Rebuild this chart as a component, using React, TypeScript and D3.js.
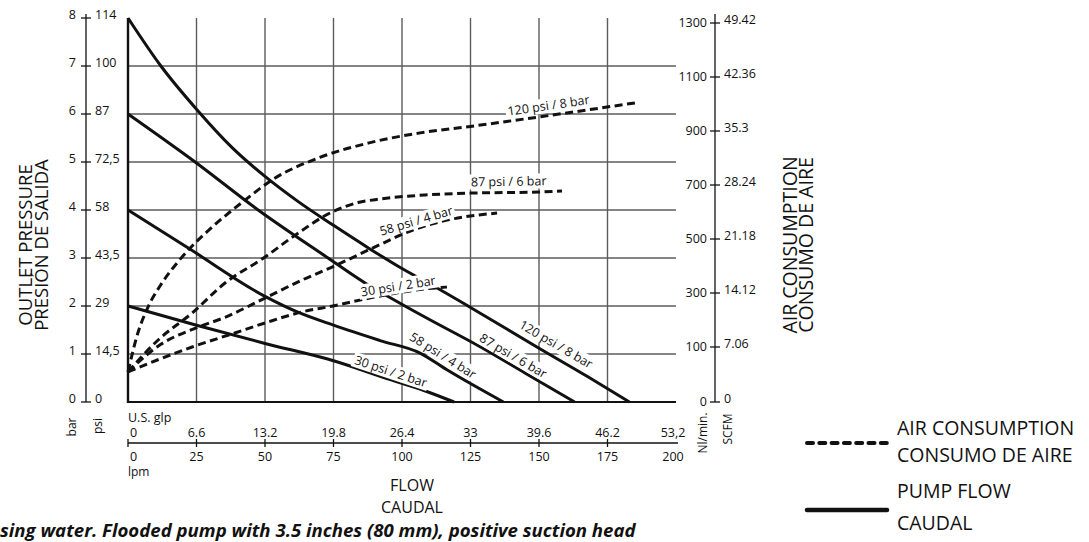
import { FunctionComponent, useEffect, useRef } from "react";
import * as d3 from "d3";

type Pt = [number, number];

interface Series {
    name: string;
    points: Pt[];
    labelAt: number;
    labelOffset: number;
}

// flow axis
const flowLpm = [0, 25, 50, 75, 100, 125, 150, 175, 200];
const flowGal = ["0", "6.6", "13.2", "19.8", "26.4", "33", "39.6", "46.2", "53,2"];

// outlet pressure axis
const pressureBar = [0, 1, 2, 3, 4, 5, 6, 7, 8];
const pressurePsi = ["0", "14,5", "29", "43,5", "58", "72,5", "87", "100", "114"];

// air consumption axis
const airNl = [0, 100, 300, 500, 700, 900, 1100, 1300];
const airScfm = ["0", "7.06", "14.12", "21.18", "28.24", "35.3", "42.36", "49.42"];

// pump flow curves: [lpm, bar]
const pump120: Pt[] = [[0, 8.0], [12, 7.0], [25, 6.1], [38, 5.3], [50, 4.7], [62, 4.18], [75, 3.68], [88, 3.2], [100, 2.78], [112, 2.4], [125, 1.97], [150, 1.12], [168, 0.52], [183, 0]];
const pump87: Pt[] = [[0, 6.0], [24.5, 5.0], [47.5, 4.0], [73, 3.0], [86.5, 2.48], [94, 2.23], [108, 1.78], [128.5, 1.15], [145, 0.6], [163, 0]];
const pump58: Pt[] = [[0, 4.0], [23, 3.17], [50, 2.2], [62, 1.87], [75, 1.6], [92, 1.28], [106.6, 1.02], [116.4, 0.67], [137, 0]];
const pump30: Pt[] = [[0, 2.0], [25, 1.6], [50, 1.22], [75, 0.86], [96, 0.46], [108, 0.24], [119, 0]];

// air consumption curves: [lpm, Nl/min]
const air120: Pt[] = [[0, 55], [3.6, 152], [7.3, 248], [12.4, 337], [18.2, 415], [23.4, 474], [30.7, 544], [35.4, 585], [42.7, 644], [52.6, 719], [70, 802], [88, 856], [106.6, 893], [125, 917], [150, 952], [185, 1004]];
const air87: Pt[] = [[0, 55], [11, 126], [23.4, 226], [35.4, 337], [50, 433], [60, 507], [74.5, 600], [84, 635], [92, 648], [108.4, 663], [125, 670], [150, 674], [158.4, 678]];
const air58: Pt[] = [[0, 55], [12, 110], [24.7, 170], [35.4, 210], [50, 281], [63.5, 348], [74.5, 396], [90, 470], [104, 533], [116.4, 570], [134.7, 596]];
const air30: Pt[] = [[0, 55], [23.4, 100], [39, 152], [50, 189], [63.5, 230], [74.8, 252], [90, 285], [108.4, 315], [116.4, 322]];

const pumpSeries: Series[] = [
    { name: "120 psi / 8 bar", points: pump120, labelAt: 154, labelOffset: 12 },
    { name: "87 psi / 6 bar", points: pump87, labelAt: 139, labelOffset: 9 },
    { name: "58 psi / 4 bar", points: pump58, labelAt: 113, labelOffset: 10 },
    { name: "30 psi / 2 bar", points: pump30, labelAt: 95, labelOffset: 8 },
];

const airSeries: Series[] = [
    { name: "120 psi / 8 bar", points: air120, labelAt: 154, labelOffset: 10 },
    { name: "87 psi / 6 bar", points: air87, labelAt: 139, labelOffset: 11 },
    { name: "58 psi / 4 bar", points: air58, labelAt: 106, labelOffset: 8 },
    { name: "30 psi / 2 bar", points: air30, labelAt: 99, labelOffset: 7 },
];

const FONT = "'Open Sans', 'DejaVu Sans', sans-serif";
const INK = "#111";
const GRID = "#5c5c5c";

const App: FunctionComponent = () => {
    const container = useRef<SVGSVGElement>(null);

    useEffect(draw, []);

    function draw() {
        if (!container.current) return;
        const svg = d3.select(container.current);
        svg.selectAll("*").remove();

        const x = d3.scaleLinear().domain([0, 200]).range([128, 676]);
        const yBar = d3.scaleLinear().domain([0, 8]).range([402, 18]);
        // the air axis is not linear: 0-100 takes the same room as each 200 above it
        const yAir = d3.scaleLinear().domain([0, 100, 1300]).range([402, 347, 23]);

        // grid
        const grid = svg.append("g");
        grid.selectAll("line.v")
            .data(flowLpm.slice(1, -1))
            .join("line")
            .attr("x1", d => x(d)).attr("x2", d => x(d))
            .attr("y1", yBar(8)).attr("y2", yBar(0))
            .attr("stroke", GRID).attr("stroke-width", 1.4);
        grid.selectAll("line.h")
            .data(pressureBar.slice(1, -1))
            .join("line")
            .attr("x1", x(0)).attr("x2", x(200))
            .attr("y1", d => yBar(d)).attr("y2", d => yBar(d))
            .attr("stroke", GRID).attr("stroke-width", 1.4);
        grid.append("line")
            .attr("x1", x(0)).attr("x2", x(0)).attr("y1", yBar(8)).attr("y2", yBar(0) + 1)
            .attr("stroke", INK).attr("stroke-width", 2.4);
        grid.append("line")
            .attr("x1", x(0)).attr("x2", x(200)).attr("y1", yBar(0)).attr("y2", yBar(0))
            .attr("stroke", INK).attr("stroke-width", 2);

        // left axis
        const left = svg.append("g").attr("font-family", FONT).attr("font-size", 12.5).attr("fill", INK);
        left.append("line").attr("x1", 86).attr("x2", 86).attr("y1", 14).attr("y2", yBar(0))
            .attr("stroke", INK).attr("stroke-width", 1.3);
        left.selectAll("line.t").data(pressureBar).join("line")
            .attr("x1", 81).attr("x2", 91).attr("y1", d => yBar(d)).attr("y2", d => yBar(d))
            .attr("stroke", INK).attr("stroke-width", 1.3);
        left.selectAll("text.b").data(pressureBar).join("text")
            .attr("x", 76).attr("y", d => yBar(d)).attr("dy", "0.1em")
            .attr("text-anchor", "end").text(d => String(d));
        left.selectAll("text.p").data(pressurePsi).join("text")
            .attr("x", 95).attr("y", (_, i) => yBar(pressureBar[i])).attr("dy", "0.1em")
            .text(d => d);

        // right axis
        const right = svg.append("g").attr("font-family", FONT).attr("font-size", 12.5).attr("fill", INK);
        right.append("line").attr("x1", 715).attr("x2", 715).attr("y1", 14).attr("y2", yAir(0))
            .attr("stroke", INK).attr("stroke-width", 1.3);
        right.selectAll("line.t").data(airNl).join("line")
            .attr("x1", 710).attr("x2", 720).attr("y1", d => yAir(d)).attr("y2", d => yAir(d))
            .attr("stroke", INK).attr("stroke-width", 1.3);
        right.selectAll("text.n").data(airNl).join("text")
            .attr("x", 707).attr("y", d => yAir(d)).attr("dy", "0.35em")
            .attr("text-anchor", "end").text(d => String(d));
        right.selectAll("text.s").data(airScfm).join("text")
            .attr("x", 724).attr("y", (_, i) => yAir(airNl[i])).attr("dy", "0.1em")
            .text(d => d);

        // bottom axis
        const bottom = svg.append("g").attr("font-family", FONT).attr("font-size", 12.5).attr("fill", INK);
        bottom.append("line").attr("x1", x(0)).attr("x2", x(200) + 2).attr("y1", 443).attr("y2", 443)
            .attr("stroke", INK).attr("stroke-width", 1.3);
        bottom.selectAll("line.t").data(flowLpm.slice(0, -1)).join("line")
            .attr("x1", d => x(d)).attr("x2", d => x(d)).attr("y1", 439).attr("y2", 447)
            .attr("stroke", INK).attr("stroke-width", 1.3);
        bottom.selectAll("text.g").data(flowGal).join("text")
            .attr("x", (_, i) => x(flowLpm[i]) + (i === 0 ? 2 : i === flowGal.length - 1 ? -3 : 0))
            .attr("y", 437)
            .attr("text-anchor", (_, i) => (i === 0 ? "start" : "middle"))
            .text(d => d);
        bottom.selectAll("text.l").data(flowLpm).join("text")
            .attr("x", (d, i) => x(d) + (i === 0 ? 2 : i === flowLpm.length - 1 ? -3 : 0))
            .attr("y", 461)
            .attr("text-anchor", (_, i) => (i === 0 ? "start" : "middle"))
            .text(d => String(d));
        bottom.append("text").attr("x", 128).attr("y", 422).text("U.S. glp");
        bottom.append("text").attr("x", 128).attr("y", 476).attr("font-size", 12).text("lpm");

        // rotated unit labels
        const unit = (tx: number, ty: number, t: string) =>
            svg.append("text")
                .attr("transform", `translate(${tx},${ty}) rotate(-90)`)
                .attr("text-anchor", "middle").attr("dy", "0.35em")
                .attr("font-family", FONT).attr("font-size", 12).attr("fill", INK)
                .text(t);
        unit(72, 427, "bar");
        unit(98, 426, "psi");
        unit(703, 433, "Nl/min.");
        unit(728, 429, "SCFM");

        // axis titles
        const title = (tx: number, ty: number, size: number, lines: string[]) => {
            const t = svg.append("text")
                .attr("transform", `translate(${tx},${ty}) rotate(-90)`)
                .attr("text-anchor", "middle")
                .attr("font-family", FONT).attr("font-size", size).attr("fill", INK);
            lines.forEach((l, i) => t.append("tspan").attr("x", 0).attr("dy", i === 0 ? 0 : 16).text(l));
        };
        title(31.5, 245, 18.5, ["OUTLET PRESSURE", "PRESIÓN DE SALIDA"]);
        title(797, 245, 19.5, ["AIR CONSUMPTION", "CONSUMO DE AIRE"]);

        svg.append("text").attr("x", 412).attr("y", 491).attr("text-anchor", "middle")
            .attr("font-family", FONT).attr("font-size", 16).attr("fill", INK).text("FLOW");
        svg.append("text").attr("x", 412).attr("y", 512.5).attr("text-anchor", "middle")
            .attr("font-family", FONT).attr("font-size", 16).attr("fill", INK).text("CAUDAL");

        // curves
        const pumpLine = d3.line<Pt>().x(d => x(d[0])).y(d => yBar(d[1])).curve(d3.curveMonotoneX);
        const airLine = d3.line<Pt>().x(d => x(d[0])).y(d => yAir(d[1])).curve(d3.curveMonotoneX);

        svg.append("g").selectAll("path").data(airSeries).join("path")
            .attr("d", d => airLine(d.points))
            .attr("fill", "none").attr("stroke", INK).attr("stroke-width", 3)
            .attr("stroke-dasharray", "8 4.5");
        svg.append("g").selectAll("path").data(pumpSeries).join("path")
            .attr("d", d => pumpLine(d.points))
            .attr("fill", "none").attr("stroke", INK).attr("stroke-width", 3);

        // curve labels, on a white patch, turned along the curve
        const labels = svg.append("g").attr("font-family", FONT).attr("font-size", 12.5).attr("fill", INK);
        const place = (s: Series, yScale: d3.ScaleLinear<number, number>) => {
            const px = s.points.map(p => x(p[0]));
            const py = s.points.map(p => yScale(p[1]));
            const at = d3.scaleLinear().domain(px).range(py).clamp(true);
            const cx = x(s.labelAt);
            const a = Math.atan2(at(cx + 4) - at(cx - 4), 8);
            const lx = cx + s.labelOffset * Math.sin(a);
            const ly = at(cx) - s.labelOffset * Math.cos(a);
            const g = labels.append("g")
                .attr("transform", `translate(${lx},${ly}) rotate(${(a * 180) / Math.PI})`);
            const rect = g.append("rect").attr("fill", "#fff");
            const t = g.append("text").attr("text-anchor", "middle").attr("dy", "0.35em").text(s.name);
            const b = (t.node() as SVGTextElement).getBBox();
            rect.attr("x", b.x - 2).attr("y", b.y + 1).attr("width", b.width + 4).attr("height", b.height - 2);
        };
        airSeries.forEach(s => place(s, yAir));
        pumpSeries.forEach(s => place(s, yBar));

        // legend
        svg.append("line").attr("x1", 807).attr("x2", 887).attr("y1", 443).attr("y2", 443)
            .attr("stroke", INK).attr("stroke-width", 4).attr("stroke-linecap", "round")
            .attr("stroke-dasharray", "6 6.3");
        svg.append("line").attr("x1", 807).attr("x2", 887).attr("y1", 510).attr("y2", 510)
            .attr("stroke", INK).attr("stroke-width", 4.5).attr("stroke-linecap", "round");
        const legendText = [
            ["AIR CONSUMPTION", 435],
            ["CONSUMO DE AIRE", 462],
            ["PUMP FLOW", 498],
            ["CAUDAL", 530],
        ] as const;
        svg.append("g").selectAll("text").data(legendText).join("text")
            .attr("x", 897).attr("y", d => d[1])
            .attr("font-family", FONT).attr("font-size", 19.5).attr("fill", INK)
            .text(d => d[0]);

        // note
        svg.append("text").attr("x", 0).attr("y", 537)
            .attr("font-family", FONT).attr("font-size", 18.6).attr("font-weight", "bold")
            .attr("font-style", "italic").attr("fill", INK)
            .text("sing water. Flooded pump with 3.5 inches (80 mm), positive suction head");
    }

    return (
        <svg
            ref={container}
            width={1089}
            height={542}
            style={{ position: "absolute", left: 0, top: 0, background: "#fff" }}
        />
    );
};

export default App;
